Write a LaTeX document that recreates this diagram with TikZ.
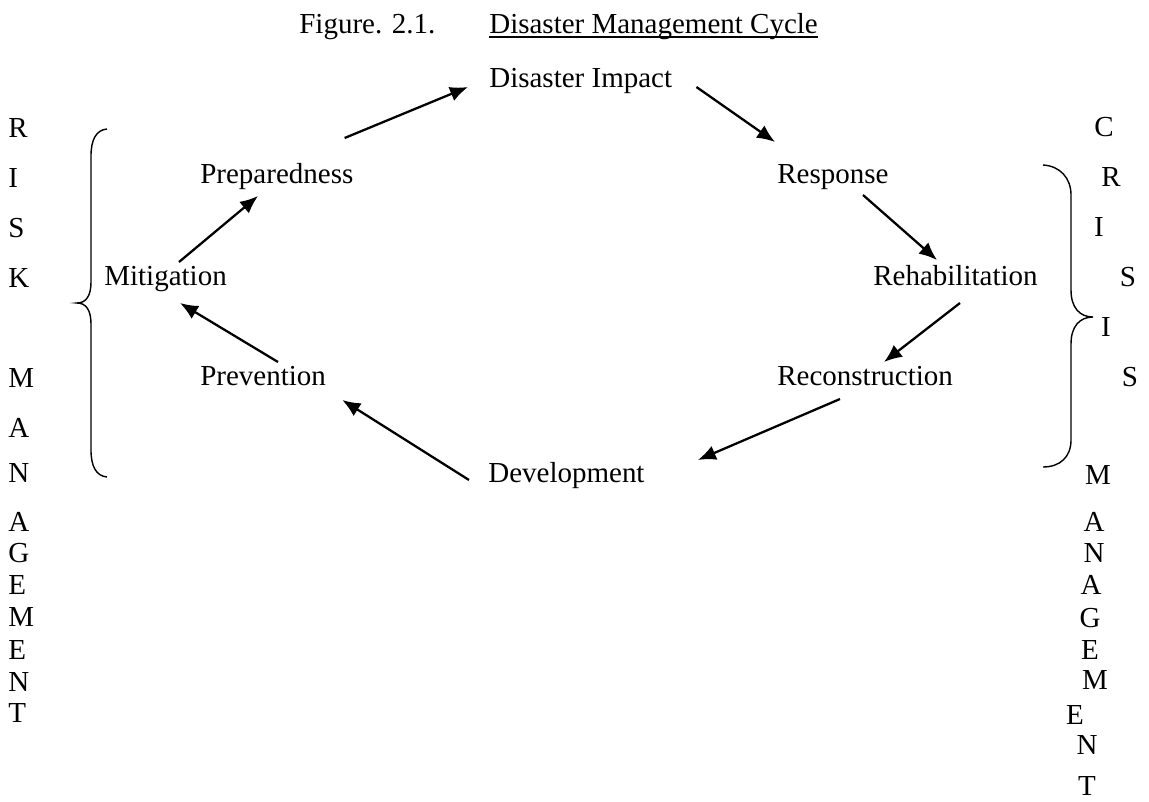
\documentclass[tikz,border=0pt]{standalone}
\usepackage{fontspec}
\setmainfont{Liberation Serif}
\usetikzlibrary{arrows.meta}

\begin{document}
\begin{tikzpicture}[x=0.02cm,y=-0.02cm,
	every node/.style={inner sep=0pt,font=\fontsize{16.5}{19.8}\selectfont},
	stage/.style={anchor=base west},
	letter/.style={anchor=west},
	cycarrow/.style={-{Latex[length=0.36cm,width=0.3cm]},line width=1.3pt},
	brace/.style={line width=0.8pt}]
	\useasboundingbox (0,0) rectangle (1149,801);
	% title
	\node[stage] (fig) at (299,33) {Figure. 2.1.};
	\node[stage] (title) at (489,33) {Disaster Management Cycle};
	\draw[line width=1pt] ([shift={(0,4)}]title.base west) -- ([shift={(0,4)}]title.base east);
	% the stages
	\node[stage] (impact) at (489,87) {Disaster Impact};
	\node[stage] (prep) at (200,183) {Preparedness};
	\node[stage] (resp) at (777,183) {Response};
	\node[stage] (miti) at (104,285) {Mitigation};
	\node[stage] (rehab) at (873,285) {Rehabilitation};
	\node[stage] (prev) at (200,385) {Prevention};
	\node[stage] (recon) at (777,385) {Reconstruction};
	\node[stage] (devel) at (488,482) {Development};
	% cycle
	\draw[cycarrow] ([shift={(-9,-45)}]prep.base east) -- ([shift={(-21,0)}]impact.base west);
	\draw[cycarrow] ([shift={(24,0)}]impact.base east) -- ([shift={(-2,-41)}]resp.base west);
	\draw[cycarrow] ([shift={(86,12)}]resp.base west) -- ([shift={(64,-25)}]rehab.base west);
	\draw[cycarrow] ([shift={(87,18)}]rehab.base west) -- ([shift={(107,-23)}]recon.base west);
	\draw[cycarrow] ([shift={(63,14)}]recon.base west) -- ([shift={(53,-22)}]devel.base east);
	\draw[cycarrow] ([shift={(-19,-2)}]devel.base west) -- ([shift={(16,15)}]prev.base east);
	\draw[cycarrow] ([shift={(78,-23)}]prev.base west) -- ([shift={(76,18)}]miti.base west);
	\draw[cycarrow] ([shift={(75,-23)}]miti.base west) -- ([shift={(58,13)}]prep.base west);
	% braces
	\draw[brace] (107,129) .. controls (96,130) and (91,140) .. (91,156) -- (91,282)
		.. controls (91,296) and (86,303) .. (77,303)
		.. controls (86,303) and (91,310) .. (91,324) -- (91,450)
		.. controls (91,466) and (96,476) .. (107,477);
	\draw[brace] (1043,165) .. controls (1060,166) and (1071,178) .. (1071,195) -- (1071,290)
		.. controls (1071,308) and (1080,317) .. (1093,317)
		.. controls (1080,317) and (1071,326) .. (1071,344) -- (1071,440)
		.. controls (1071,457) and (1060,467) .. (1043,467);
	% vertical words
	\foreach \ch/\yy [count=\i] in {R/128,I/178,S/228,K/278,M/378,A/428,N/473,A/522,G/553,E/585,M/617,E/650,N/682,T/713}
		\node[letter] (risk\i) at (8,\yy) {\ch};
	\foreach \ch/\xx/\yy [count=\i] in {C/1104/127,R/1111/177,I/1099/227,S/1128/277,I/1106/327,S/1130/377,M/1098/475,A/1094/522,N/1094/553,A/1091/585,G/1090/618,E/1090/650,M/1095/680,E/1075/715,N/1087/745,T/1087/786}
		\node (crisis\i) at (\xx,\yy) {\ch};
\end{tikzpicture}
\end{document}
